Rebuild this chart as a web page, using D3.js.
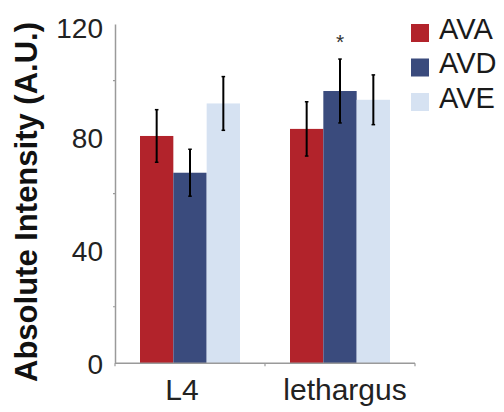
<!DOCTYPE html>
<html>
<head>
<meta charset="utf-8">
<script src="https://cdn.jsdelivr.net/npm/d3@7"></script>
<style>
  body { margin: 0; background: #fff; }
  text { font-family: "Liberation Sans", Arial, sans-serif; }
</style>
</head>
<body>
<figure id="bars" style="margin:0"></figure>
<script>
// data
const groups = ["L4", "lethargus"];
const neurons = ["AVA", "AVD", "AVE"];
const means = {
  AVA: [80.4, 82.9],
  AVD: [67.4, 96.3],
  AVE: [91.9, 93.2]
};
const errors = {
  AVA: [9.3, 9.6],
  AVD: [8.3, 11.3],
  AVE: [9.5, 8.8]
};
const yLabels = [0, 40, 80, 120];
const yMinor = [20, 60, 100];
const starred = [{ group: "lethargus", neuron: "AVD" }];

const width = 504;
const height = 412;
const colors = d3.scaleOrdinal()
  .domain(neurons)
  .range(["#b2232b", "#3a4b7d", "#d6e2f2"]);

const svg = d3.select("figure#bars")
  .append("svg")
  .attr("width", width)
  .attr("height", height);

const x0 = d3.scaleBand()
  .domain(groups)
  .range([115, 415])
  .paddingInner(1 / 3)
  .paddingOuter(1 / 6);

const x1 = d3.scaleBand()
  .domain(neurons)
  .range([0, x0.bandwidth()]);

const y = d3.scaleLinear()
  .domain([0, 120])
  .range([363.3, 24]);

// rows for the bars
const rows = [];
groups.forEach((g, gi) => {
  neurons.forEach(n => {
    rows.push({ group: g, neuron: n, mean: means[n][gi], err: errors[n][gi] });
  });
});

// bars
svg.selectAll("rect.bar")
  .data(rows)
  .enter()
  .append("rect")
  .attr("class", "bar")
  .attr("x", d => x0(d.group) + x1(d.neuron))
  .attr("y", d => y(d.mean))
  .attr("width", x1.bandwidth())
  .attr("height", d => y(0) - y(d.mean))
  .attr("fill", d => colors(d.neuron));

// error bars
const cx = d => x0(d.group) + x1(d.neuron) + x1.bandwidth() / 2;
const err = svg.append("g").attr("stroke", "#000");
err.selectAll("line.stem")
  .data(rows)
  .enter()
  .append("line")
  .attr("x1", cx).attr("x2", cx)
  .attr("y1", d => y(d.mean + d.err))
  .attr("y2", d => y(d.mean - d.err))
  .attr("stroke-width", 2);
err.selectAll("line.cap")
  .data(rows.flatMap(d => [d.mean + d.err, d.mean - d.err].map(v => ({ d, v }))))
  .enter()
  .append("line")
  .attr("x1", e => cx(e.d) - 1.8).attr("x2", e => cx(e.d) + 1.8)
  .attr("y1", e => y(e.v)).attr("y2", e => y(e.v))
  .attr("stroke-width", 1.5);

// asterisk
svg.selectAll("text.star")
  .data(starred.map(s => rows.find(r => r.group === s.group && r.neuron === s.neuron)))
  .enter()
  .append("text")
  .attr("x", cx)
  .attr("y", d => y(d.mean + d.err) - 10)
  .attr("text-anchor", "middle")
  .attr("font-size", 21)
  .attr("fill", "#333")
  .text("*");

// axes
const axisColor = "#9a9a9a";
const xAxis = svg.append("g")
  .attr("transform", `translate(0,${y(0)})`);
xAxis.append("line")
  .attr("x1", 115).attr("x2", 415)
  .attr("stroke", axisColor).attr("stroke-width", 1.5);
xAxis.selectAll("line.xt")
  .data([115, x0("lethargus") - x0.step() * x0.paddingInner() / 2, 415])
  .enter()
  .append("line")
  .attr("x1", d => d).attr("x2", d => d)
  .attr("y1", 0).attr("y2", 3)
  .attr("stroke", axisColor).attr("stroke-width", 1.2);

// category labels sit a little off the band centres in the original
svg.append("g")
  .selectAll("text.xl")
  .data(groups)
  .enter()
  .append("text")
  .attr("x", d => x0(d) + x0.bandwidth() / 2)
  .attr("dx", (d, i) => (i === 0 ? -8 : 5))
  .attr("y", 400)
  .attr("text-anchor", "middle")
  .attr("font-size", 30)
  .attr("fill", "#222")
  .text(d => d);

const yAxis = svg.append("g")
  .attr("transform", "translate(115,0)")
  .call(d3.axisLeft(y).tickValues(yLabels).tickSize(0).tickPadding(12));
yAxis.select(".domain")
  .attr("stroke", axisColor).attr("stroke-width", 1.5);
yAxis.selectAll(".tick text")
  .attr("font-family", "Liberation Sans, Arial, sans-serif")
  .attr("font-size", 28)
  .attr("dy", d => (d === 120 ? "0.48em" : "0.36em"))
  .attr("fill", "#222");
yAxis.selectAll("line.minor")
  .data(yMinor)
  .enter()
  .append("line")
  .attr("x1", -2).attr("x2", 0)
  .attr("y1", d => y(d)).attr("y2", d => y(d))
  .attr("stroke", axisColor).attr("stroke-width", 1.2);

svg.append("text")
  .attr("transform", "translate(37,202) rotate(-90)")
  .attr("text-anchor", "middle")
  .attr("font-size", 31)
  .attr("font-weight", "bold")
  .attr("fill", "#111")
  .text("Absolute Intensity (A.U.)");

// legend
const legend = svg.append("g")
  .selectAll("g")
  .data(neurons)
  .enter()
  .append("g")
  .attr("transform", (d, i) => `translate(411,${24 + i * 34.5})`);
legend.append("rect")
  .attr("width", 18).attr("height", 18)
  .attr("fill", d => colors(d));
legend.append("text")
  .attr("x", 28).attr("y", 14.5)
  .attr("font-size", 29)
  .attr("fill", "#1a1a1a")
  .text(d => d);
</script>
</body>
</html>
